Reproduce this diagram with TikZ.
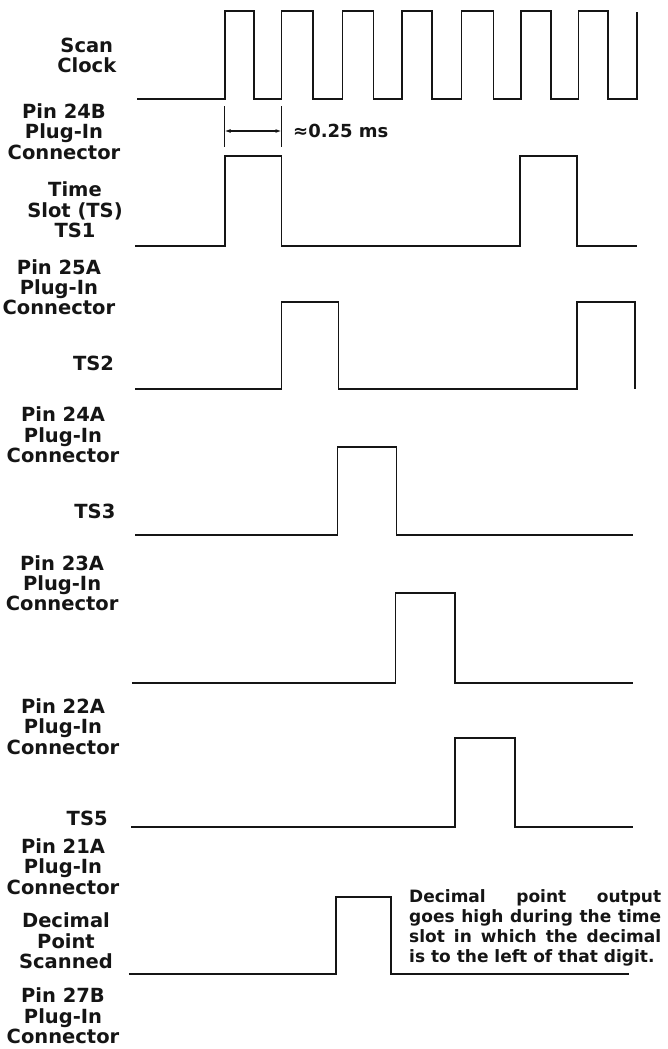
\documentclass[tikz,border=0pt]{standalone}
\usepackage{fontspec}
\setmainfont{DejaVu Sans}
\usepackage{tikz}
\usetikzlibrary{arrows.meta, positioning, calc}
\usepackage{xcolor}
\definecolor{inkBlack}{HTML}{151515}
\tikzset{
  sigtag/.style  = {align=center, inner sep=0pt, text=inkBlack,
                    font=\bfseries\fontsize{19.5}{20.3}\selectfont},
  wave/.style    = {line width=1.8pt, draw=inkBlack, line join=miter},
  dimline/.style = {line width=1.4pt, draw=inkBlack},
  dimarrow/.style= {{Latex[length=6pt,width=4pt]}-{Latex[length=6pt,width=4pt]},
                    line width=1.2pt, draw=inkBlack},
}

\begin{document}
\begin{tikzpicture}[
  x=1pt, y=-1pt,
  remark/.style={text width=252pt, align=justify, inner sep=0pt, text=inkBlack,
                 anchor=north west, font=\bfseries\fontsize{17}{20}\selectfont},
]
\useasboundingbox (0,0) rectangle (667,1049);

\node[sigtag] (clk)    at (86.8,55.7)   {Scan\\Clock};
\node[sigtag] (pin24b) at (64,131.7)    {Pin 24B\\Plug-In\\Connector};
\node[sigtag] (ts1)    at (75,210)      {Time\\Slot (TS)\\TS1};
\node[sigtag] (pin25a) at (58.9,287.3)  {Pin 25A\\Plug-In\\Connector};
\node[sigtag] (ts2)    at (93.6,363.3)  {TS2};
\node[sigtag] (pin24a) at (63,435)      {Pin 24A\\Plug-In\\Connector};
\node[sigtag] (ts3)    at (94.9,511.7)  {TS3};
\node[sigtag] (pin23a) at (62.1,583.3)  {Pin 23A\\Plug-In\\Connector};
\node[sigtag] (pin22a) at (63,726.7)    {Pin 22A\\Plug-In\\Connector};
\node[sigtag] (ts5)    at (87.2,818.3)  {TS5};
\node[sigtag] (pin21a) at (63,866.7)    {Pin 21A\\Plug-In\\Connector};
\node[sigtag] (dpscan) at (66,941)      {Decimal\\Point\\Scanned};
\node[sigtag] (pin27b) at (63,1016)     {Pin 27B\\Plug-In\\Connector};

\draw[wave] (137,99) -| (224.6,11) -| (253.9,99) -| (281.5,11) -| (312.6,99)
  -| (342.4,11) -| (373.5,99) -| (402,11) -| (431.7,99) -| (461.5,11)
  -| (493.4,99) -| (521,11) -| (550.8,99) -| (578.5,11) -| (608.3,99)
  -| (636.7,12);
\draw[wave] (135.3,246) -| (224.6,156) -| (281.5,246) -| (519.8,156)
  -| (577.2,246) -- (636.7,246);
\draw[wave] (135.3,389.3) -| (281.5,302.3) -| (338.5,389.3) -| (577.2,302.3)
  -| (634.6,389.3);
\draw[wave] (135.3,535) -| (337.5,447.3) -| (396.4,535) -- (632.9,535);
\draw[wave] (131.9,682.7) -| (395.5,592.7) -| (455.1,682.7) -- (632.9,682.7);
\draw[wave] (131,826.7) -| (455.1,738.3) -| (514.7,826.7) -- (632.9,826.7);
\draw[wave] (128.9,974) -| (336,897.3) -| (391.3,974) -- (628.7,974);

\coordinate (dimL) at (224.6,131);
\coordinate (dimR) at (281.5,131);
\draw[dimline] ($(dimL)+(0,-25)$) -- ($(dimL)+(0,15.7)$);
\draw[dimline] ($(dimR)+(0,-25)$) -- ($(dimR)+(0,15.7)$);
\draw[dimarrow] (dimL) -- (dimR);
\node[sigtag, anchor=west, font=\bfseries\fontsize{18}{20}\selectfont] (period)
  at (293,131) {≈0.25 ms};

\node[remark] (dpnote) at (409,889) {\parfillskip=0pt
  Decimal point output\linebreak goes high during the time\linebreak
  slot in which the decimal\linebreak is to the left of that digit.};

\end{tikzpicture}
\end{document}
